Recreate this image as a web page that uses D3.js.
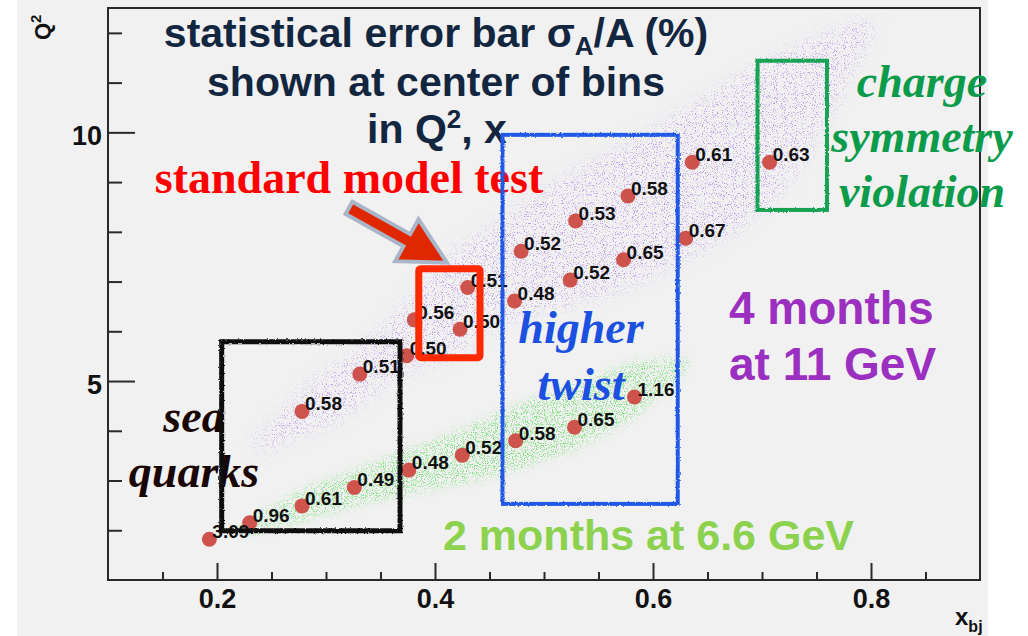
<!DOCTYPE html>
<html>
<head>
<meta charset="utf-8">
<script src="https://cdn.jsdelivr.net/npm/d3@7"></script>
<style>
  html, body { margin: 0; padding: 0; background: #ffffff; }
  svg { display: block; }
</style>
</head>
<body>
<svg id="chart" width="1028" height="636"></svg>
<script>
// ---------------- DATA ----------------
// 6.6 GeV bins (green band): x_bj, Q^2, statistical error (%)
const greenX   = [0.193, 0.230, 0.278, 0.326, 0.376, 0.425, 0.474, 0.528, 0.583];
const greenQ2  = [1.82, 2.15, 2.49, 2.86, 3.21, 3.51, 3.80, 4.07, 4.68];
const greenErr = ["3.09", "0.96", "0.61", "0.49", "0.48", "0.52", "0.58", "0.65", "1.16"];

// 11 GeV bins (purple band)
const purpleX   = [0.278, 0.331, 0.374, 0.381, 0.423, 0.430, 0.473, 0.479, 0.524, 0.529, 0.573, 0.577, 0.630, 0.636, 0.707];
const purpleQ2  = [4.39, 5.14, 5.51, 6.23, 6.04, 6.88, 6.61, 7.61, 7.03, 8.22, 7.44, 8.72, 7.87, 9.40, 9.40];
const purpleErr = ["0.58", "0.51", "0.50", "0.56", "0.50", "0.51", "0.48", "0.52", "0.52", "0.53", "0.65", "0.58", "0.67", "0.61", "0.63"];

// kinematic coverage outlines [x_bj, Q^2]
const greenBand = [
  [0.221, 2.05], [0.239, 2.31], [0.278, 2.81], [0.327, 3.21], [0.376, 3.62], [0.425, 4.02],
  [0.474, 4.52], [0.528, 4.92], [0.583, 5.39], [0.632, 5.47],
  [0.632, 5.22], [0.606, 4.72], [0.583, 4.26], [0.528, 3.62], [0.474, 3.21], [0.425, 2.95],
  [0.376, 2.73], [0.327, 2.49], [0.278, 2.19], [0.239, 1.95], [0.221, 1.89]
];
const purpleBand = [
  [0.230, 3.70], [0.282, 4.90], [0.332, 5.63], [0.366, 6.41], [0.395, 7.05], [0.420, 7.64],
  [0.459, 8.22], [0.505, 8.92], [0.564, 9.65], [0.628, 10.43], [0.691, 11.30], [0.754, 11.94],
  [0.796, 12.26], [0.804, 12.16], [0.775, 10.88], [0.745, 9.65], [0.712, 8.64], [0.670, 7.94],
  [0.630, 7.44], [0.573, 6.83], [0.524, 6.53], [0.473, 6.27], [0.438, 5.83], [0.420, 5.49],
  [0.370, 5.20], [0.345, 4.76], [0.311, 4.20], [0.269, 3.84], [0.241, 3.57]
];

// highlighted regions [x0, x1, Q2low, Q2high]
const seaBox    = [0.2043, 0.3679, 1.99, 5.79];
const smBox     = [0.3851, 0.4413, 5.47, 7.26];
const twistBox  = [0.4619, 0.6227, 2.53, 9.95];
const csvBox    = [0.6959, 0.7596, 8.44, 11.44];
const arrowFrom = [0.3211, 8.48];
const arrowTo   = [0.4110, 7.38];

const xMajor = [0.2, 0.4, 0.6, 0.8];
const xMajorLabels = ["0.2", "0.4", "0.6", "0.8"];
const xMinor = [0.15, 0.25, 0.3, 0.35, 0.45, 0.5, 0.55, 0.65, 0.7, 0.75, 0.85];
const yMajor = [5, 10];
const yMajorLabels = ["5", "10"];
const yMinor = [2, 3, 4, 6, 7, 8, 9, 11, 12];

// ---------------- DRAW ----------------
const SANS = "'Liberation Sans', Arial, Helvetica, sans-serif";
const SERIF = "'Liberation Serif', 'Times New Roman', Times, serif";

const svg = d3.select("#chart");
const x = d3.scaleLinear().domain([0.1, 0.9]).range([108, 980]);
const y = d3.scaleLinear().domain([1, 12.5]).range([580, 8]);

const defs = svg.append("defs");
function speckle(id, r, g, b, thr, seed, blur) {
  const f = defs.append("filter").attr("id", id)
    .attr("x", "-5%").attr("y", "-5%").attr("width", "110%").attr("height", "110%")
    .attr("color-interpolation-filters", "sRGB");
  f.append("feTurbulence").attr("type", "fractalNoise").attr("baseFrequency", 0.9)
    .attr("numOctaves", 2).attr("seed", seed).attr("result", "n");
  f.append("feColorMatrix").attr("in", "n").attr("type", "matrix")
    .attr("values", `0 0 0 0 ${r}  0 0 0 0 ${g}  0 0 0 0 ${b}  7 0 0 0 ${thr}`).attr("result", "d");
  f.append("feGaussianBlur").attr("in", "SourceAlpha").attr("stdDeviation", blur).attr("result", "soft");
  f.append("feComposite").attr("in", "d").attr("in2", "soft").attr("operator", "in");
}
speckle("spkP", 0.74, 0.60, 0.90, -4.0, 7, 8);
speckle("spkG", 0.52, 0.88, 0.52, -3.6, 3, 5);

const rough = defs.append("filter").attr("id", "rough")
  .attr("x", "-5%").attr("y", "-5%").attr("width", "110%").attr("height", "110%");
rough.append("feTurbulence").attr("type", "fractalNoise").attr("baseFrequency", 0.6)
  .attr("numOctaves", 1).attr("seed", 4).attr("result", "t");
rough.append("feDisplacementMap").attr("in", "SourceGraphic").attr("in2", "t")
  .attr("scale", 3).attr("xChannelSelector", "R").attr("yChannelSelector", "G");

// background panel
svg.append("rect").attr("x", 17).attr("y", 0).attr("width", 971).attr("height", 636).attr("fill", "#f1f1f1");

// bands
const area = d3.line().x(d => x(d[0])).y(d => y(d[1])).curve(d3.curveLinearClosed);
svg.append("path").attr("d", area(purpleBand)).attr("fill", "#000").attr("filter", "url(#spkP)");
svg.append("path").attr("d", area(greenBand)).attr("fill", "#000").attr("filter", "url(#spkG)");

// axes
const axG = svg.append("g").attr("font-family", SANS);
const yAx = axG.append("g").attr("transform", `translate(${x(0.1)},0)`)
  .call(d3.axisLeft(y).tickValues(yMajor).tickSize(-27).tickPadding(6)
    .tickFormat((d, i) => yMajorLabels[i]));
yAx.select(".domain").remove();
yAx.selectAll("text").attr("dy", null).attr("y", 12).attr("font-size", 27).attr("font-weight", "bold").attr("fill", "#111");
yAx.selectAll("line").attr("stroke", "#2a2a2a").attr("stroke-width", 2);

const yAxm = axG.append("g").attr("transform", `translate(${x(0.1)},0)`)
  .call(d3.axisLeft(y).tickValues(yMinor).tickSize(-14).tickFormat(""));
yAxm.select(".domain").remove();
yAxm.selectAll("line").attr("stroke", "#2a2a2a").attr("stroke-width", 2);

const xAx = axG.append("g").attr("transform", `translate(0,${y(1)})`)
  .call(d3.axisBottom(x).tickValues(xMajor).tickSize(-17).tickPadding(6)
    .tickFormat((d, i) => xMajorLabels[i]));
xAx.select(".domain").remove();
xAx.selectAll("text").attr("dy", null).attr("y", 28).attr("font-size", 27).attr("font-weight", "bold").attr("fill", "#111");
xAx.selectAll("line").attr("stroke", "#2a2a2a").attr("stroke-width", 2);

const xAxm = axG.append("g").attr("transform", `translate(0,${y(1)})`)
  .call(d3.axisBottom(x).tickValues(xMinor).tickSize(-8).tickFormat(""));
xAxm.select(".domain").remove();
xAxm.selectAll("line").attr("stroke", "#2a2a2a").attr("stroke-width", 2);

// frame
svg.append("rect").attr("x", x(0.1)).attr("y", y(12.5))
  .attr("width", x(0.9) - x(0.1)).attr("height", y(1) - y(12.5))
  .attr("fill", "none").attr("stroke", "#2a2a2a").attr("stroke-width", 2);

// axis titles
const qt = svg.append("text").attr("transform", "translate(50,40) rotate(-90)")
  .attr("font-family", SANS).attr("font-weight", "bold").attr("font-size", 22).attr("fill", "#111");
qt.append("tspan").text("Q");
qt.append("tspan").attr("dy", -9).attr("font-size", 15).text("2");

const xt = svg.append("text").attr("x", 955).attr("y", 625)
  .attr("font-family", SANS).attr("font-weight", "bold").attr("font-size", 24).attr("fill", "#111");
xt.append("tspan").text("x");
xt.append("tspan").attr("dy", 7).attr("font-size", 16).text("bj");

// points
function drawPoints(xs, qs, errs) {
  const g = svg.append("g");
  const data = xs.map((d, i) => ({ x: d, q: qs[i], e: errs[i] }));
  g.selectAll("circle").data(data).join("circle")
    .attr("cx", d => x(d.x)).attr("cy", d => y(d.q)).attr("r", 7.5)
    .attr("fill", "#cf534d");
  g.selectAll("text").data(data).join("text")
    .attr("x", d => x(d.x) + 3).attr("y", d => y(d.q) - 1)
    .attr("font-family", SANS).attr("font-weight", "bold").attr("font-size", 19)
    .attr("fill", "#111").text(d => d.e);
}
drawPoints(greenX, greenQ2, greenErr);
drawPoints(purpleX, purpleQ2, purpleErr);

// annotation texts
function lines(arr, cx, y0, dy, size, color, family, italic, anchor) {
  arr.forEach((t, i) => {
    svg.append("text").attr("x", cx).attr("y", y0 + i * dy)
      .attr("text-anchor", anchor || "middle")
      .attr("font-family", family).attr("font-weight", "bold")
      .attr("font-style", italic ? "italic" : "normal")
      .attr("font-size", size).attr("fill", color).text(t);
  });
}

// title block
const navy = "#13263f";
const t1 = svg.append("text").attr("x", 436).attr("y", 47).attr("text-anchor", "middle")
  .attr("font-family", SANS).attr("font-weight", "bold").attr("font-size", 41).attr("fill", navy);
t1.append("tspan").text("statistical error bar σ");
t1.append("tspan").attr("dy", 8).attr("font-size", 26).text("A");
t1.append("tspan").attr("dy", -8).text("/A (%)");
lines(["shown at center of bins"], 436, 96, 0, 41, navy, SANS, false);
const t3 = svg.append("text").attr("x", 437).attr("y", 143).attr("text-anchor", "middle")
  .attr("font-family", SANS).attr("font-weight", "bold").attr("font-size", 41).attr("fill", navy);
t3.append("tspan").text("in Q");
t3.append("tspan").attr("dy", -15).attr("font-size", 26).text("2");
t3.append("tspan").attr("dy", 15).text(", x");

lines(["standard model test"], 349, 193, 0, 46, "#ff0000", SERIF, false);
lines(["sea", "quarks"], 194, 432, 55, 46, "#1a0505", SERIF, true);
lines(["higher", "twist"], 581, 343, 57, 46, "#1c50e0", SERIF, true);
lines(["charge", "symmetry", "violation"], 922, 97, 55, 46, "#0c9b4a", SERIF, true);
lines(["4 months", "at 11 GeV"], 729, 324, 56, 46, "#9b2fc0", SANS, false, "start");
lines(["2 months at 6.6 GeV"], 443, 550, 0, 43, "#8cd24f", SANS, false, "start");

// boxes
function box(b, color, w, roughen) {
  const r = svg.append("rect")
    .attr("x", x(b[0])).attr("y", y(b[3]))
    .attr("width", x(b[1]) - x(b[0])).attr("height", y(b[2]) - y(b[3]))
    .attr("fill", "none").attr("stroke", color).attr("stroke-width", w);
  if (roughen) r.attr("filter", "url(#rough)");
  return r;
}
box(seaBox, "#111111", 5, true);
box(twistBox, "#2059e6", 4, true);
box(csvBox, "#17a353", 4, true);
box(smBox, "#ff2a00", 7, false).attr("rx", 2);

// arrow
(function () {
  const tx = x(arrowFrom[0]), ty = y(arrowFrom[1]);
  const px = x(arrowTo[0]), py = y(arrowTo[1]);
  const dx = px - tx, dy = py - ty, L = Math.hypot(dx, dy);
  const ux = dx / L, uy = dy / L, nx = -uy, ny = ux;
  const sw = 7, hw = 24, hl = 46;
  const hx = px - ux * hl, hy = py - uy * hl;
  const pts = [
    [tx + nx * sw, ty + ny * sw], [hx + nx * sw, hy + ny * sw], [hx + nx * hw, hy + ny * hw],
    [px, py], [hx - nx * hw, hy - ny * hw], [hx - nx * sw, hy - ny * sw], [tx - nx * sw, ty - ny * sw]
  ];
  svg.append("path").attr("d", d3.line()(pts) + "Z")
    .attr("fill", "#e02800").attr("stroke", "#a9b6c9").attr("stroke-width", 4)
    .attr("stroke-linejoin", "miter");
})();
</script>
</body>
</html>
